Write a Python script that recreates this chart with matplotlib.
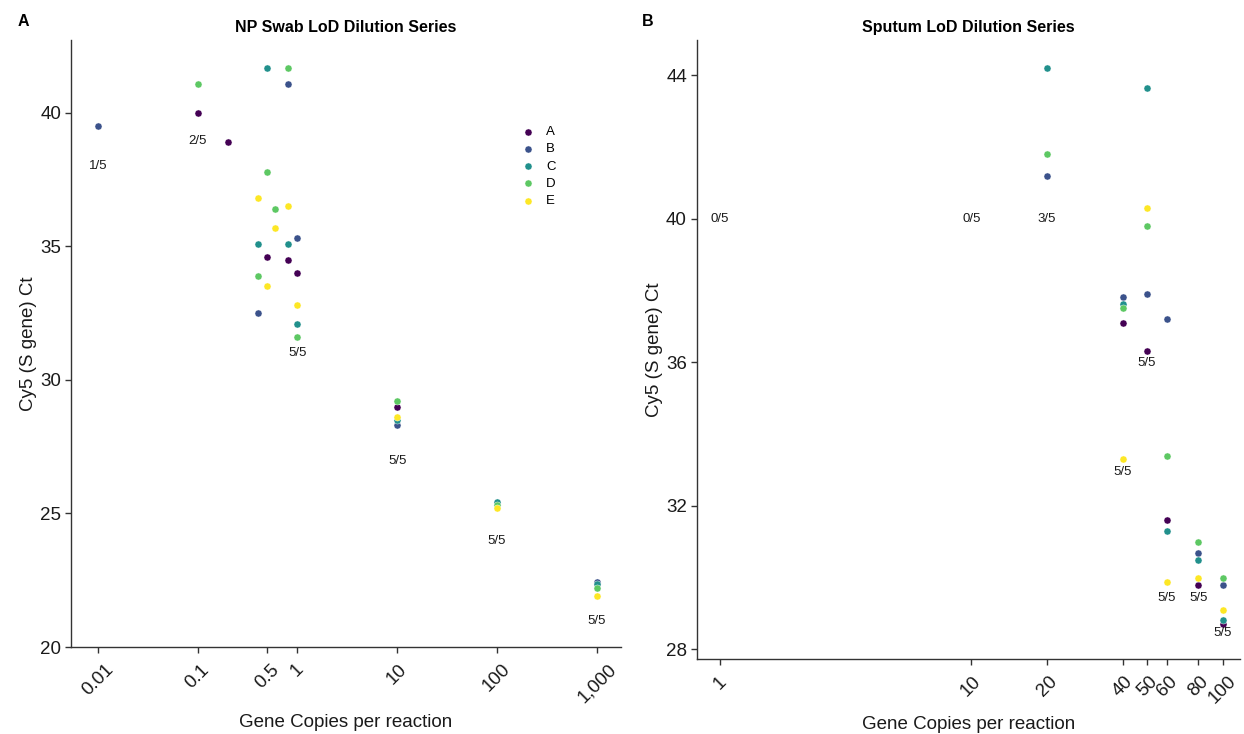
import numpy as np
import matplotlib

matplotlib.use("Agg")
import matplotlib.pyplot as plt
from matplotlib.ticker import FixedLocator, NullLocator

plt.rcParams["font.family"] = ["Liberation Sans", "DejaVu Sans"]

nan = np.nan

# sample groups and colours (viridis, 5 levels)
groups = ["A", "B", "C", "D", "E"]
colors = ["#440154", "#3B528B", "#21908C", "#5DC863", "#FDE725"]

# NP swab dilution series
np_copies = [0.01, 0.1, 0.2, 0.4, 0.5, 0.6, 0.8, 1, 10, 100, 1000]
np_a = [nan, 40.0, 38.9, nan, 34.6, nan, 34.5, 34.0, 29.0, 25.3, 22.4]
np_b = [39.5, nan, nan, 32.5, nan, nan, 41.1, 35.3, 28.3, 25.4, 22.45]
np_c = [nan, nan, nan, 35.1, 41.7, nan, 35.1, 32.1, 28.5, 25.43, 22.35]
np_d = [nan, 41.1, nan, 33.9, 37.8, 36.4, 41.7, 31.6, 29.2, 25.33, 22.22]
np_e = [nan, nan, nan, 36.8, 33.5, 35.7, 36.5, 32.8, 28.6, 25.22, 21.91]

np_label_x = [0.01, 0.1, 1, 10, 100, 1000]
np_label_y = [38.0, 38.95, 31.0, 26.97, 23.97, 20.97]
np_label_txt = ["1/5", "2/5", "5/5", "5/5", "5/5", "5/5"]

np_ticks = [0.01, 0.1, 0.5, 1, 10, 100, 1000]
np_tick_txt = ["0.01", "0.1", "0.5", "1", "10", "100", "1,000"]

# sputum dilution series
sp_copies = [20, 40, 50, 60, 80, 100]
sp_a = [nan, 37.1, 36.3, 31.6, 29.78, 28.69]
sp_b = [41.2, 37.81, 37.91, 37.2, 30.69, 29.78]
sp_c = [44.2, 37.62, 43.64, 31.29, 30.48, 28.80]
sp_d = [41.8, 37.51, 39.80, 33.39, 30.98, 29.99]
sp_e = [nan, 33.29, 40.31, 29.88, 29.99, 29.08]

sp_label_x = [1, 10, 20, 40, 50, 60, 80, 100]
sp_label_y = [40.0, 40.0, 40.0, 32.93, 35.98, 29.43, 29.43, 28.46]
sp_label_txt = ["0/5", "0/5", "3/5", "5/5", "5/5", "5/5", "5/5", "5/5"]

sp_ticks = [1, 10, 20, 40, 50, 60, 80, 100]
sp_tick_txt = ["1", "10", "20", "40", "50", "60", "80", "100"]


def style_axis(ax, ticks, tick_txt, yticks):
    ax.set_xscale("log")
    for side in ["top", "right"]:
        ax.spines[side].set_visible(False)
    for side in ["left", "bottom"]:
        ax.spines[side].set_color("#333333")
        ax.spines[side].set_linewidth(1.0)
    ax.xaxis.set_major_locator(FixedLocator(ticks))
    ax.xaxis.set_minor_locator(NullLocator())
    ax.set_xticklabels(tick_txt, rotation=45, ha="center", va="top")
    ax.set_yticks(yticks)
    ax.tick_params(axis="both", length=4, width=1, color="#333333",
                   labelsize=13.5, labelcolor="#1a1a1a", pad=3)
    ax.tick_params(axis="x", pad=6)
    ax.set_xlabel("Gene Copies per reaction", fontsize=13.5, color="#1a1a1a",
                  labelpad=6)
    ax.set_ylabel("Cy5 (S gene) Ct", fontsize=13.5, color="#1a1a1a",
                  labelpad=2)


fig = plt.figure(figsize=(12.44, 7.34), dpi=100)
ax1 = fig.add_axes([0.057, 0.1185, 0.442, 0.827])
ax2 = fig.add_axes([0.560, 0.102, 0.437, 0.8435])

for ax, xs, series in [
    (ax1, np_copies, [np_a, np_b, np_c, np_d, np_e]),
    (ax2, sp_copies, [sp_a, sp_b, sp_c, sp_d, sp_e]),
]:
    for name, col, ys in zip(groups, colors, series):
        ax.scatter(xs, ys, s=26, color=col, edgecolors="white",
                   linewidths=0.3, label=name, zorder=3)

for x, y, t in zip(np_label_x, np_label_y, np_label_txt):
    ax1.text(x, y, t, ha="center", va="center", fontsize=9.5, color="#1a1a1a")
for x, y, t in zip(sp_label_x, sp_label_y, sp_label_txt):
    ax2.text(x, y, t, ha="center", va="center", fontsize=9.5, color="#1a1a1a")

style_axis(ax1, np_ticks, np_tick_txt, [20, 25, 30, 35, 40])
ax1.set_xlim(10 ** -2.27, 10 ** 3.24)
ax1.set_ylim(20.0, 42.73)

style_axis(ax2, sp_ticks, sp_tick_txt, [28, 32, 36, 40, 44])
ax2.set_xlim(10 ** -0.092, 10 ** 2.07)
ax2.set_ylim(27.72, 44.98)

ax1.set_title("NP Swab LoD Dilution Series", fontsize=11.5, fontweight="bold",
              pad=6)
ax2.set_title("Sputum LoD Dilution Series", fontsize=11.5, fontweight="bold",
              pad=6)

ax1.legend(loc="upper left", bbox_to_anchor=(0.795, 0.878), frameon=False,
           fontsize=9.5, markerscale=1.0, handletextpad=0.8, labelspacing=0.38,
           handlelength=1.2)

fig.text(0.0145, 0.971, "A", fontsize=11.5, fontweight="bold", va="center")
fig.text(0.516, 0.971, "B", fontsize=11.5, fontweight="bold", va="center")

fig.savefig("out.png", dpi=100)
